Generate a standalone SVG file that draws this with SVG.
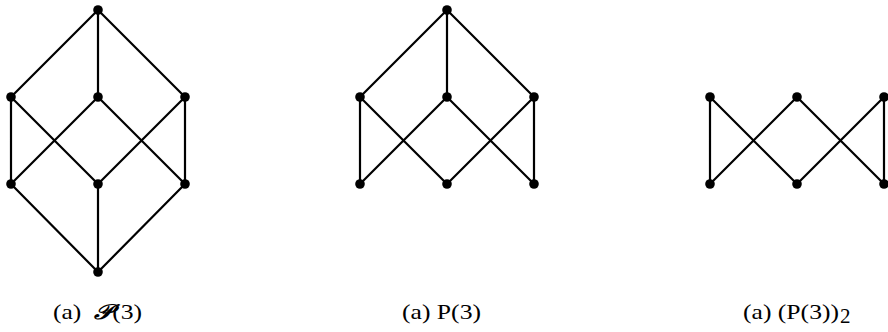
<svg xmlns="http://www.w3.org/2000/svg" width="888" height="332" viewBox="0 0 888 332">
<style>
.e{stroke:#000;stroke-width:2.2;fill:none;stroke-linecap:round}
.n{fill:#000}
.t{font-family:"Liberation Serif","Times New Roman",serif;font-size:21px;fill:#000}
</style>
<rect width="888" height="332" fill="#fff"/>
<g id="connectors">
<g id="edges-a">
<path class="e" d="M98,10L11,97M98,10L98,97M98,10L185,97"/>
<path class="e" d="M11,97L11,184M11,97L98,184M98,97L11,184M98,97L185,184M185,97L98,184M185,97L185,184"/>
<path class="e" d="M11,184L98,272M98,184L98,272M185,184L98,272"/>
</g>
<g id="edges-b">
<path class="e" d="M447,10L360,97M447,10L447,97M447,10L534,97"/>
<path class="e" d="M360,97L360,184M360,97L447,184M447,97L360,184M447,97L534,184M534,97L447,184M534,97L534,184"/>
</g>
<g id="edges-c">
<path class="e" d="M710,97L710,184M710,97L797,184M797,97L710,184M797,97L884,184M884,97L797,184M884,97L884,184"/>
</g>
</g>
<g id="node-a-top"><circle class="n" cx="98" cy="10" r="4.8"/></g>
<g id="node-a-m1"><circle class="n" cx="11" cy="97" r="4.8"/></g>
<g id="node-a-m2"><circle class="n" cx="98" cy="97" r="4.8"/></g>
<g id="node-a-m3"><circle class="n" cx="185" cy="97" r="4.8"/></g>
<g id="node-a-l1"><circle class="n" cx="11" cy="184" r="4.8"/></g>
<g id="node-a-l2"><circle class="n" cx="98" cy="184" r="4.8"/></g>
<g id="node-a-l3"><circle class="n" cx="185" cy="184" r="4.8"/></g>
<g id="node-a-bot"><circle class="n" cx="98" cy="272" r="4.8"/></g>
<g id="node-b-top"><circle class="n" cx="447" cy="10" r="4.8"/></g>
<g id="node-b-m1"><circle class="n" cx="360" cy="97" r="4.8"/></g>
<g id="node-b-m2"><circle class="n" cx="447" cy="97" r="4.8"/></g>
<g id="node-b-m3"><circle class="n" cx="534" cy="97" r="4.8"/></g>
<g id="node-b-l1"><circle class="n" cx="360" cy="184" r="4.8"/></g>
<g id="node-b-l2"><circle class="n" cx="447" cy="184" r="4.8"/></g>
<g id="node-b-l3"><circle class="n" cx="534" cy="184" r="4.8"/></g>
<g id="node-c-m1"><circle class="n" cx="710" cy="97" r="4.8"/></g>
<g id="node-c-m2"><circle class="n" cx="797" cy="97" r="4.8"/></g>
<g id="node-c-m3"><circle class="n" cx="884" cy="97" r="4.8"/></g>
<g id="node-c-l1"><circle class="n" cx="710" cy="184" r="4.8"/></g>
<g id="node-c-l2"><circle class="n" cx="797" cy="184" r="4.8"/></g>
<g id="node-c-l3"><circle class="n" cx="884" cy="184" r="4.8"/></g>
<g id="labels">
<text class="t" x="53" y="319" textLength="89" lengthAdjust="spacingAndGlyphs">(a) <tspan dx="5" font-style="italic" font-weight="bold">𝒫</tspan>(3)</text>
<text class="t" x="402" y="319" textLength="79" lengthAdjust="spacingAndGlyphs">(a) P(3)</text>
<text class="t" x="743" y="319" textLength="96" lengthAdjust="spacingAndGlyphs">(a) (P(3))</text>
<text class="t" x="840" y="323" font-size="15">2</text>
</g>
</svg>
